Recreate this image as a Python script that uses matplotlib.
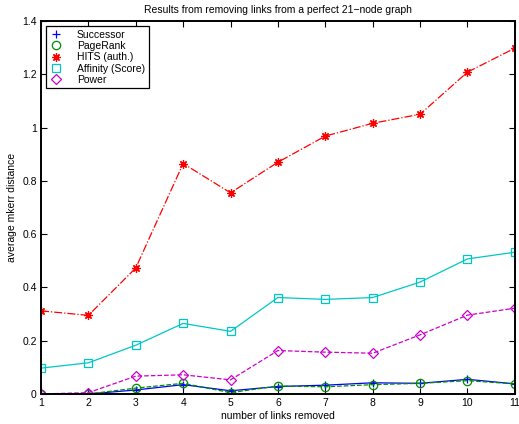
import numpy as np
import matplotlib
matplotlib.use('Agg')
import matplotlib.pyplot as plt

plt.rcParams['font.family'] = ['Liberation Sans', 'DejaVu Sans']
plt.rcParams['font.size'] = 7.5

# Data
links_removed = [1, 2, 3, 4, 5, 6, 7, 8, 9, 10, 11]
successor = [0.0, 0.0, 0.015, 0.035, 0.012, 0.028, 0.033, 0.042, 0.040, 0.055, 0.038]
pagerank = [0.0, 0.0, 0.022, 0.040, 0.005, 0.030, 0.027, 0.035, 0.040, 0.050, 0.038]
hits = [0.312, 0.295, 0.473, 0.865, 0.755, 0.870, 0.968, 1.016, 1.050, 1.208, 1.298]
affinity = [0.097, 0.117, 0.183, 0.265, 0.235, 0.362, 0.355, 0.362, 0.420, 0.507, 0.532]
power = [0.0, 0.005, 0.067, 0.072, 0.053, 0.163, 0.157, 0.153, 0.222, 0.296, 0.322]
y_ticks = [0, 0.2, 0.4, 0.6, 0.8, 1.0, 1.2, 1.4]
y_labels = ['0', '0.2', '0.4', '0.6', '0.8', '1', '1.2', '1.4']

fig = plt.figure(figsize=(5.19, 4.24), dpi=100)
ax = fig.add_axes([0.079, 0.0708, 0.913, 0.8797])

asterisk = (8, 2, 0)  # matlab style '*'
series = [
    (successor, 'Successor', '-', '+', (0, 0, 1), 6),
    (pagerank, 'PageRank', '--', 'o', (0, 0.55, 0), 6),
    (hits, 'HITS (auth.)', '-.', asterisk, (1, 0, 0), 6),
    (affinity, 'Affinity (Score)', '-', 's', (0, 0.78, 0.78), 5.5),
    (power, 'Power', '--', 'D', (0.8, 0, 0.8), 5),
]
handles = []
for vals, name, ls, mk, col, sz in series:
    ax.plot(links_removed, vals, linestyle=ls, color=col, lw=0.9)
    ax.plot(links_removed, vals, linestyle='none', marker=mk, color=col,
            mfc='none', ms=sz, mew=0.9)
    h, = ax.plot([], [], linestyle='none', marker=mk, color=col, mfc='none',
                 ms=sz, mew=0.9, label=name)
    handles.append(h)

ax.set_xlim(1, 11)
ax.set_ylim(0, 1.4)
ax.set_xticks(links_removed)
ax.set_yticks(y_ticks)
ax.set_yticklabels(y_labels)
ax.tick_params(direction='in', top=True, right=True, length=4, width=0.8, pad=3)
for s in ax.spines.values():
    s.set_linewidth(1.4)

ax.set_title('Results from removing links from a perfect 21\u2212node graph', fontsize=7.5, pad=6)
ax.set_xlabel('number of links removed', labelpad=2)
ax.set_ylabel('average mkerr distance', labelpad=4)

leg = ax.legend(handles=handles, loc='upper left', fancybox=False, framealpha=1,
                edgecolor='black', borderaxespad=0.5, handlelength=1.2,
                handletextpad=1.4, labelspacing=0.12, borderpad=0.35)
leg.get_frame().set_linewidth(0.9)

fig.savefig('out.png', dpi=100)
